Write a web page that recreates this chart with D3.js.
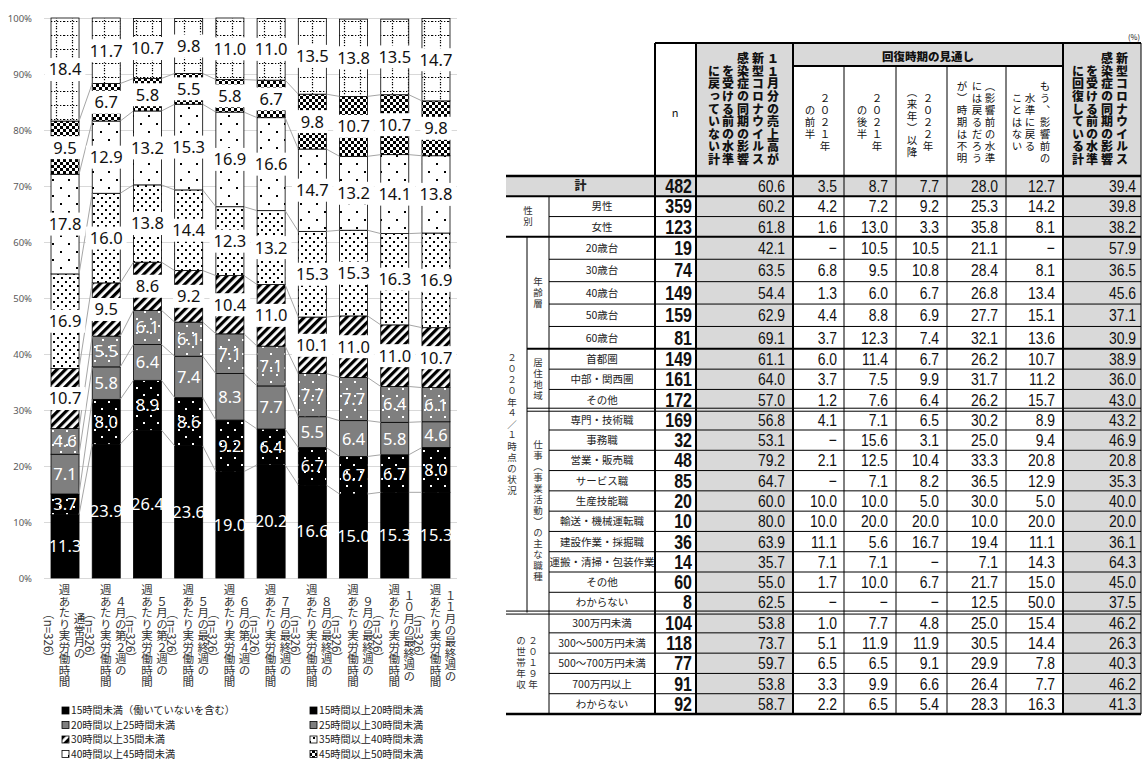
<!DOCTYPE html>
<meta charset="utf-8">
<style>
  body { margin: 0; background: #fff; }
  svg text { font-family: "Noto Sans CJK JP", "Noto Sans", sans-serif; }
  .vt { writing-mode: vertical-rl; text-orientation: mixed; }
  .num { font-family: "Liberation Sans", Arial, sans-serif; }
</style>
<script src="https://d3js.org/d3.v7.min.js"></script>
<div id="my_dataviz"></div>
<script>
// ---------- chart data (left) ----------
var periods = ["通常月の", "４月の第２週の", "５月の第２週の", "５月の最終週の", "６月の第４週の",
  "７月の最終週の", "８月の最終週の", "９月の最終週の", "１０月の最終週の", "１１月の最終週の"];
var hourBands = ["15時間未満（働いていないを含む）", "15時間以上20時間未満", "20時間以上25時間未満",
  "25時間以上30時間未満", "30時間以上35間未満", "35時間以上40時間未満", "40時間以上45時間未満",
  "45時間以上50時間未満", "50時間以上"];
var under15 = [11.3, 23.9, 26.4, 23.6, 19.0, 20.2, 16.6, 15.0, 15.3, 15.3];
var h15to20 = [3.7, 8.0, 8.9, 8.6, 9.2, 6.4, 6.7, 6.7, 6.7, 8.0];
var h20to25 = [7.1, 5.8, 6.4, 7.4, 8.3, 7.7, 5.5, 6.4, 5.8, 4.6];
var h25to30 = [4.6, 5.5, 6.1, 6.1, 7.1, 7.1, 7.7, 7.7, 6.4, 6.1];
var h30to35 = [10.7, 9.5, 8.6, 9.2, 10.4, 11.0, 10.1, 11.0, 11.0, 10.7];
var h35to40 = [16.9, 16.0, 13.8, 14.4, 12.3, 13.2, 15.3, 15.3, 16.3, 16.9];
var h40to45 = [17.8, 12.9, 13.2, 15.3, 16.9, 16.6, 14.7, 13.2, 14.1, 13.8];
var h45to50 = [9.5, 6.7, 5.8, 5.5, 5.8, 6.7, 9.8, 10.7, 10.7, 9.8];
var over50 = [18.4, 11.7, 10.7, 9.8, 11.0, 11.0, 13.5, 13.8, 13.5, 14.7];
var yTicks = [0, 10, 20, 30, 40, 50, 60, 70, 80, 90, 100];

// ---------- table data (right) ----------
var rowLabels = ["計", "男性", "女性", "20歳台", "30歳台", "40歳台", "50歳台", "60歳台",
  "首都圏", "中部・関西圏", "その他", "専門・技術職", "事務職", "営業・販売職", "サービス職",
  "生産技能職", "輸送・機械運転職", "建設作業・採掘職", "運搬・清掃・包装作業", "その他", "わからない",
  "300万円未満", "300～500万円未満", "500～700万円未満", "700万円以上", "わからない"];
var nValues = [482, 359, 123, 19, 74, 149, 159, 81, 149, 161, 172, 169, 32, 48, 85, 20, 10, 36, 14, 60, 8, 104, 118, 77, 91, 92];
var notRecovered = [60.6, 60.2, 61.8, 42.1, 63.5, 54.4, 62.9, 69.1, 61.1, 64.0, 57.0, 56.8, 53.1, 79.2, 64.7, 60.0, 80.0, 63.9, 35.7, 55.0, 62.5, 53.8, 73.7, 59.7, 53.8, 58.7];
var first2021 = [3.5, 4.2, 1.6, null, 6.8, 1.3, 4.4, 3.7, 6.0, 3.7, 1.2, 4.1, null, 2.1, null, 10.0, 10.0, 11.1, 7.1, 1.7, null, 1.0, 5.1, 6.5, 3.3, 2.2];
var second2021 = [8.7, 7.2, 13.0, 10.5, 9.5, 6.0, 8.8, 12.3, 11.4, 7.5, 7.6, 7.1, 15.6, 12.5, 7.1, 10.0, 20.0, 5.6, 7.1, 10.0, null, 7.7, 11.9, 6.5, 9.9, 6.5];
var from2022 = [7.7, 9.2, 3.3, 10.5, 10.8, 6.7, 6.9, 7.4, 6.7, 9.9, 6.4, 6.5, 3.1, 10.4, 8.2, 5.0, 20.0, 16.7, null, 6.7, null, 4.8, 11.9, 9.1, 6.6, 5.4];
var timingUnknown = [28.0, 25.3, 35.8, 21.1, 28.4, 26.8, 27.7, 32.1, 26.2, 31.7, 26.2, 30.2, 25.0, 33.3, 36.5, 30.0, 10.0, 19.4, 7.1, 21.7, 12.5, 25.0, 30.5, 29.9, 26.4, 28.3];
var neverBack = [12.7, 14.2, 8.1, null, 8.1, 13.4, 15.1, 13.6, 10.7, 11.2, 15.7, 8.9, 9.4, 20.8, 12.9, 5.0, 20.0, 11.1, 14.3, 15.0, 50.0, 15.4, 14.4, 7.8, 7.7, 16.3];
var recovered = [39.4, 39.8, 38.2, 57.9, 36.5, 45.6, 37.1, 30.9, 38.9, 36.0, 43.0, 43.2, 46.9, 20.8, 35.3, 40.0, 20.0, 36.1, 64.3, 45.0, 37.5, 46.2, 26.3, 40.3, 46.2, 41.3];

var W = 1145, H = 760;
var svg = d3.select("#my_dataviz").append("svg").attr("width", W).attr("height", H);
var defs = svg.append("defs");

// ---------- fill patterns ----------
function pattern(id, w, h) {
  return defs.append("pattern").attr("id", id).attr("patternUnits", "userSpaceOnUse")
    .attr("width", w).attr("height", h);
}
function dots(p, bg, fg, pts, s) {
  p.append("rect").attr("width", 100).attr("height", 100).attr("fill", bg);
  pts.forEach(function(d) { p.append("rect").attr("x", d[0]).attr("y", d[1]).attr("width", s).attr("height", s).attr("fill", fg); });
}
dots(pattern("pBlackDots", 14, 14), "#000", "#fff", [[3, 2], [10, 9]], 2);
dots(pattern("pGrayDots", 14, 14), "#7f7f7f", "#fff", [[4, 3], [10, 10]], 2);
var ph = pattern("pHatch", 6, 6).attr("patternTransform", "rotate(45)");
ph.append("rect").attr("width", 6).attr("height", 6).attr("fill", "#fff");
ph.append("rect").attr("width", 3.2).attr("height", 6).attr("fill", "#000");
dots(pattern("pDense", 8, 8), "#fff", "#000", [[1, 1], [5, 5]], 2);
dots(pattern("pSparse", 16, 16), "#fff", "#000", [[4, 3], [12, 11]], 2);
dots(pattern("pCheck", 6, 6), "#fff", "#000", [[0, 0], [3, 3]], 3);
var pg = pattern("pGrid", 16, 14);
pg.append("rect").attr("width", 16).attr("height", 14).attr("fill", "#fff");
pg.append("path").attr("d", "M0,7.5H16M8.5,0V14").attr("stroke", "#000").attr("stroke-width", 1.2)
  .attr("stroke-dasharray", "1.3,1.7");

var fills = ["#000", "url(#pBlackDots)", "#7f7f7f", "url(#pGrayDots)", "url(#pHatch)",
  "url(#pDense)", "url(#pSparse)", "url(#pCheck)", "url(#pGrid)"];

// ---------- stacked bars ----------
var series = [under15, h15to20, h20to25, h25to30, h30to35, h35to40, h40to45, h45to50, over50];
var keys = hourBands;
var rows = periods.map(function(p, i) {
  var r = {period: p};
  keys.forEach(function(k, j) { r[k] = series[j][i]; });
  return r;
});
var stacked = d3.stack().keys(keys)(rows);

var x = d3.scaleBand().domain(periods).range([44, 457]).paddingInner(0.32).paddingOuter(0.17);
var y = d3.scaleLinear().domain([0, 100]).range([578, 18]);
var bw = x.bandwidth();

var grid = svg.append("g");
grid.selectAll("line").data(yTicks).enter().append("line")
  .attr("x1", 44).attr("x2", 457)
  .attr("y1", function(d) { return y(d) + 0.5; }).attr("y2", function(d) { return y(d) + 0.5; })
  .attr("stroke", "#d9d9d9").attr("stroke-width", 1);

var yAxis = svg.append("g").attr("transform", "translate(35,0)")
  .call(d3.axisLeft(y).tickValues(yTicks).tickSize(0).tickFormat(function(d) { return d + "%"; }));
yAxis.select(".domain").remove();
yAxis.selectAll("text").attr("font-size", 9.5).attr("fill", "#595959")
  .style("font-family", "'Noto Sans', sans-serif");

var layers = svg.append("g").selectAll("g").data(stacked).enter().append("g")
  .attr("fill", function(d, i) { return fills[i]; });
layers.selectAll("rect").data(function(d) { return d; }).enter().append("rect")
  .attr("x", function(d) { return x(d.data.period); })
  .attr("y", function(d) { return y(d[1]); })
  .attr("width", bw)
  .attr("height", function(d) { return y(d[0]) - y(d[1]); })
  .attr("stroke", "#000").attr("stroke-width", 0.8);

// series lines between bars
var sl = svg.append("g").attr("stroke", "#a6a6a6").attr("stroke-width", 1);
stacked.slice(0, 8).forEach(function(s) {
  for (var i = 0; i < s.length - 1; i++) {
    sl.append("line")
      .attr("x1", x(periods[i]) + bw).attr("y1", y(s[i][1]))
      .attr("x2", x(periods[i + 1])).attr("y2", y(s[i + 1][1]));
  }
});

// data labels
var lab = svg.append("g");
stacked.forEach(function(s, k) {
  s.forEach(function(d) {
    var cx = x(d.data.period) + bw / 2, cy = y((d[0] + d[1]) / 2);
    var g = lab.append("g");
    var t = g.append("text").attr("x", cx).attr("y", cy).attr("dy", "0.36em")
      .attr("text-anchor", "middle").attr("font-size", 16.5)
      .style("font-family", "'Noto Sans', sans-serif")
      .attr("fill", k < 4 ? "#fff" : "#111").text(d3.format(".1f")(d[1] - d[0]));
    if (k >= 4) {
      var tw = t.node().getComputedTextLength();
      g.insert("rect", "text").attr("x", cx - tw / 2 - 4).attr("y", cy - 11.5)
        .attr("width", tw + 8).attr("height", 23).attr("fill", "#fff");
    }
  });
});

// x axis labels (vertical)
var xl = svg.append("g").attr("font-size", 11.5).attr("fill", "#333");
periods.forEach(function(p) {
  var cx = x(p) + bw / 2;
  [[p, 14.5], ["週あたり実労働時間", -0.5], ["（n=326）", -16.5]].forEach(function(c) {
    xl.append("text").attr("class", "vt").attr("x", cx + c[1]).attr("y", 636)
      .attr("text-anchor", "middle").text(c[0]);
  });
});

// legend (only the rows that fit in the picture)
var lg = svg.append("g");
hourBands.slice(0, 8).forEach(function(b, i) {
  var col = i % 2, row = Math.floor(i / 2);
  var lx = col === 0 ? 62 : 310, ly = 710.5 + row * 14.5;
  lg.append("rect").attr("x", lx).attr("y", ly - 3.5).attr("width", 7).attr("height", 7)
    .attr("fill", fills[i]).attr("stroke", "#000").attr("stroke-width", 0.8);
  lg.append("text").attr("x", lx + 9).attr("y", ly + 3.7).attr("font-size", 10.2).attr("fill", "#222").text(b);
});

// ---------- table ----------
var T = {left: 506, c2: 527, c3: 549, n: 655, v0: 696, v1: 793, right: 1141, top: 43, mid: 66, body: 176, bottom: 714};
var rowH = rowLabels.map(function(d, i) { return (i >= 3 && i <= 7) ? 22.4 : (T.bottom - T.body - 5 * 22.4) / 21; });
var rowTop = [T.body];
rowH.forEach(function(h, i) { rowTop.push(rowTop[i] + h); });
function rowMid(i) { return (rowTop[i] + rowTop[i + 1]) / 2; }

var tb = svg.append("g");
// gray backgrounds
tb.append("rect").attr("x", T.v0).attr("y", T.top).attr("width", T.v1 - T.v0).attr("height", T.bottom - T.top).attr("fill", "#d9d9d9");
tb.append("rect").attr("x", 1063).attr("y", T.top).attr("width", T.right - 1063).attr("height", T.bottom - T.top).attr("fill", "#d9d9d9");
tb.append("rect").attr("x", T.v1).attr("y", T.top).attr("width", 1063 - T.v1).attr("height", T.mid - T.top).attr("fill", "#d9d9d9");
tb.append("rect").attr("x", T.left).attr("y", rowTop[0]).attr("width", T.right - T.left).attr("height", rowH[0]).attr("fill", "#d9d9d9");

var ln = tb.append("g").attr("stroke", "#000");
function hline(x1, x2, yy, w) { ln.append("line").attr("x1", x1).attr("x2", x2).attr("y1", yy).attr("y2", yy).attr("stroke-width", w); }
function vline(xx, y1, y2, w) { ln.append("line").attr("x1", xx).attr("x2", xx).attr("y1", y1).attr("y2", y2).attr("stroke-width", w); }
function dline(x1, x2, yy) { hline(x1, x2, yy - 1.5, 1); hline(x1, x2, yy + 1.5, 1); }

hline(T.n, T.right, T.top, 2);
hline(T.v1, 1063, T.mid, 2);
hline(T.left, T.right, T.body, 2.5);
vline(T.n, T.top, T.bottom, 2);
vline(T.v0, T.top, T.bottom, 2);
vline(T.v1, T.top, T.bottom, 2);
[844, 896, 947, 1006].forEach(function(xx) { vline(xx, T.mid, T.bottom, 1); });
vline(1063, T.top, T.bottom, 2);
vline(T.right, T.top, T.bottom, 1);
vline(T.c3, rowTop[1], T.bottom, 1);
vline(T.c2, rowTop[3], rowTop[21], 1);
for (var i = 1; i < rowLabels.length; i++) {
  if (i === 1 || i === 3) hline(T.left, T.right, rowTop[i], 2);
  else if (i === 8) hline(T.c2, T.right, rowTop[i], 2);
  else if (i === 11) dline(T.c2, T.right, rowTop[i]);
  else if (i === 21) dline(T.left, T.right, rowTop[i]);
  else hline(T.c3, T.right, rowTop[i], 1);
}
hline(T.left, T.right, T.bottom, 2.5);

// header texts
var hd = svg.append("g").attr("fill", "#111");
hd.append("text").attr("x", 1140).attr("y", 40).attr("text-anchor", "end").attr("font-size", 7.5).text("(%)");
hd.append("text").attr("x", 675).attr("y", 117).attr("text-anchor", "middle").attr("font-size", 11).text("n");
hd.append("text").attr("x", 928).attr("y", 61).attr("text-anchor", "middle").attr("font-size", 11.5)
  .attr("font-weight", 900).text("回復時期の見通し");
function vcols(g, cols, yy, anchor, size, weight, spacing) {
  cols.forEach(function(c) {
    g.append("text").attr("class", "vt").attr("x", c[1]).attr("y", yy).attr("text-anchor", anchor)
      .attr("font-size", size).attr("font-weight", weight).style("letter-spacing", spacing + "px").text(c[0]);
  });
}
vcols(hd, [["１１月分の売上高が", 773], ["新型コロナウイルス", 758], ["感染症の同期の影響", 743],
  ["を受ける前の水準", 728], ["に戻っていない計", 714]], 166, "end", 12, 900, 0.6);
vcols(hd, [["新型コロナウイルス", 1122], ["感染症の同期の影響", 1107], ["を受ける前の水準", 1092],
  ["に回復している計", 1078]], 166, "end", 12, 900, 0.6);
vcols(hd, [["２０２１年", 825], ["の前半", 810]], 123, "middle", 10.5, 400, 1.5);
vcols(hd, [["２０２１年", 877], ["の後半", 862]], 123, "middle", 10.5, 400, 1.5);
vcols(hd, [["２０２２年", 928], ["（来年）以降", 912]], 123, "middle", 10.5, 400, 1.5);
vcols(hd, [["（影響前の水準", 990], ["には戻るだろう", 977], ["が）時期は不明", 962]], 123, "middle", 10.5, 400, 1.5);
vcols(hd, [["もう、影響前の", 1045], ["水準に戻る", 1030], ["ことはない", 1017]], 123, "middle", 10.5, 400, 1.5);

// row header texts
var rh = svg.append("g").attr("fill", "#222");
rowLabels.forEach(function(l, i) {
  rh.append("text").attr("x", i === 0 ? (T.left + T.n) / 2 : (T.c3 + T.n) / 2).attr("y", rowMid(i) + 4)
    .attr("text-anchor", "middle").attr("font-size", i === 0 ? 12 : 10.5)
    .attr("font-weight", i === 0 ? 900 : 400).text(l);
});
function groupLabel(txt, xx, r0, r1) {
  rh.append("text").attr("class", "vt").attr("x", xx).attr("y", (rowTop[r0] + rowTop[r1 + 1]) / 2)
    .attr("text-anchor", "middle").attr("font-size", 9.5).style("letter-spacing", "1.5px").attr("fill", "#333").text(txt);
}
groupLabel("性別", 528, 1, 2);
groupLabel("２０２０年４／１時点の状況", 512, 3, 20);
groupLabel("年齢層", 538, 3, 7);
groupLabel("居住地域", 538, 8, 10);
groupLabel("仕事（事業活動）の主な職種", 538, 11, 20);
groupLabel("２０１９年", 533, 21, 25);
groupLabel("の世帯年収", 521, 21, 25);

// numbers
var fmt = d3.format(".1f");
var numCols = [[notRecovered, 785], [first2021, 837], [second2021, 888], [from2022, 939],
  [timingUnknown, 998], [neverBack, 1055], [recovered, 1136]];
var nb = svg.append("g").attr("class", "num").attr("fill", "#111");
nValues.forEach(function(v, i) {
  nb.append("g").attr("transform", "translate(692," + (rowMid(i) + 7) + ") scale(0.8,1)")
    .append("text").attr("class", "num").attr("text-anchor", "end").attr("font-size", 20)
    .attr("font-weight", "bold").text(v);
});
numCols.forEach(function(c) {
  c[0].forEach(function(v, i) {
    nb.append("g").attr("transform", "translate(" + c[1] + "," + (rowMid(i) + 6) + ") scale(0.82,1)")
      .append("text").attr("class", "num").attr("text-anchor", "end").attr("font-size", 17)
      .text(v === null ? "−" : fmt(v));
  });
});
</script>
